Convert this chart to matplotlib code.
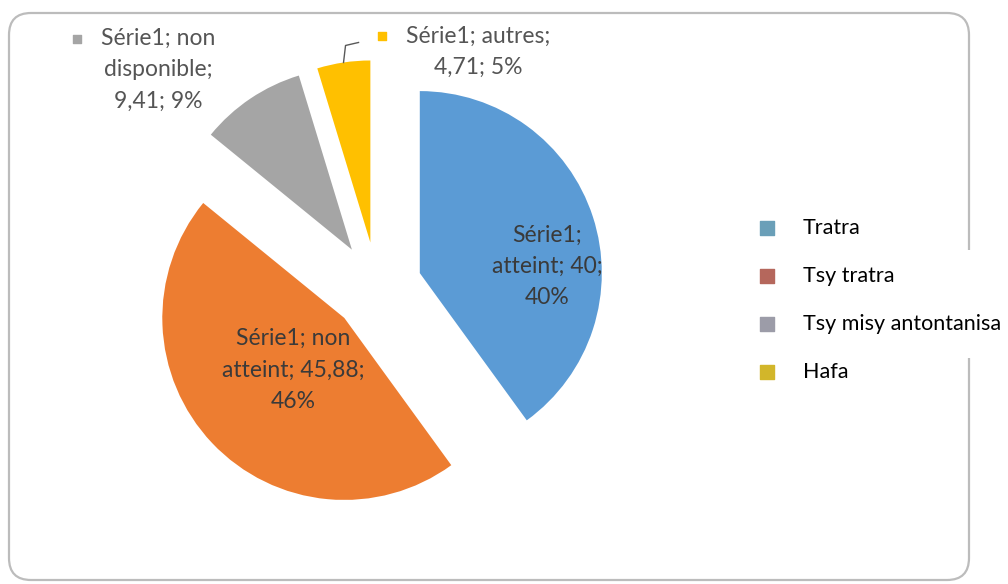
import textwrap
import numpy as np
import matplotlib.pyplot as plt
from matplotlib.patches import FancyBboxPatch, Rectangle

# data
series_name = 'Série1'
categories = ['atteint', 'non atteint', 'non disponible', 'autres']
values = [40, 45.88, 9.41, 4.71]
legend_labels = ['Tratra', 'Tsy tratra', 'Tsy misy antontanisa', 'Hafa']

colors = ['#5b9bd5', '#ed7d31', '#a5a5a5', '#ffc000']
key_colors = ['#6a9fb8', '#b5675c', '#9c9ca8', '#d2b62a']

W, H = 1008, 584
plt.rcParams['font.family'] = ['Lato', 'DejaVu Sans']

fig = plt.figure(figsize=(W / 100, H / 100), dpi=100)
ax = fig.add_axes([0, 0, 1, 1])

# pie laid out in pixel units
cx, cy, R, gap = 377, H - 287, 182, 45
wedges, _ = ax.pie(values, colors=colors, startangle=90, counterclock=False,
                   radius=R, center=(cx, cy), explode=[gap] * len(values),
                   wedgeprops=dict(linewidth=0))
ax.set_xlim(0, W)
ax.set_ylim(0, H)
ax.axis('off')

# chart border, partly hidden behind the pasted legend
ax.add_patch(FancyBboxPatch((9, H - 580), 960, 567, boxstyle='round,pad=0,rounding_size=22',
                            fc='none', ec='#bcbcbc', lw=1.6, zorder=1))
ax.add_patch(Rectangle((790, H - 358), 220, 108, fc='white', ec='none', zorder=2))

# data labels
total = sum(values)
def fmt(v):
    return f'{v:g}'.replace('.', ',')

label_texts = [textwrap.fill(f'{series_name}; {c}; {fmt(v)}; {round(v / total * 100):.0f}%', 15)
               for c, v in zip(categories, values)]
label_r = [0.70, 0.40, 1.455, 1.205]
label_ang = [3, 225.6, 137.1, 60.5]
label_col = ['#3a3a3a', '#3a3a3a', '#555555', '#555555']

fig.canvas.draw()
renderer = fig.canvas.get_renderer()
for i, (w, txt) in enumerate(zip(wedges, label_texts)):
    a = np.deg2rad(label_ang[i])
    x = w.center[0] + label_r[i] * R * np.cos(a)
    y = w.center[1] + label_r[i] * R * np.sin(a)
    t = ax.text(x, y, txt, ha='center', va='center', fontsize=16.5, color=label_col[i],
                linespacing=1.62, zorder=5)
    if label_r[i] > 1:
        # small legend key in front of the first line
        bb = t.get_window_extent(renderer)
        first = ax.text(0, 0, txt.split('\n')[0], fontsize=16.5)
        fw = first.get_window_extent(renderer).width
        first.remove()
        nl = txt.count('\n') + 1
        ky = bb.y1 - bb.height / nl / 2 + 2
        ax.scatter([x - fw / 2 - 24], [ky], marker='s', s=38, color=colors[i], zorder=5)

# leader line for the small slice
w = wedges[3]
m = np.deg2rad((w.theta1 + w.theta2) / 2)
p0 = (w.center[0] + R * np.cos(m), w.center[1] + R * np.sin(m))
ax.plot([p0[0], p0[0] + 2, p0[0] + 15], [p0[1], p0[1] + 17, p0[1] + 20],
        color='#595959', lw=1, zorder=4)

# legend (pasted in front of the chart)
for i, (lab, col) in enumerate(zip(legend_labels, key_colors)):
    y = H - (228 + 48 * i)
    ax.scatter([767], [y], marker='s', s=110, color=col, zorder=6)
    ax.text(803, y, lab, ha='left', va='center', fontsize=15.5, color='black', zorder=6)

fig.savefig('out.png', dpi=100)
